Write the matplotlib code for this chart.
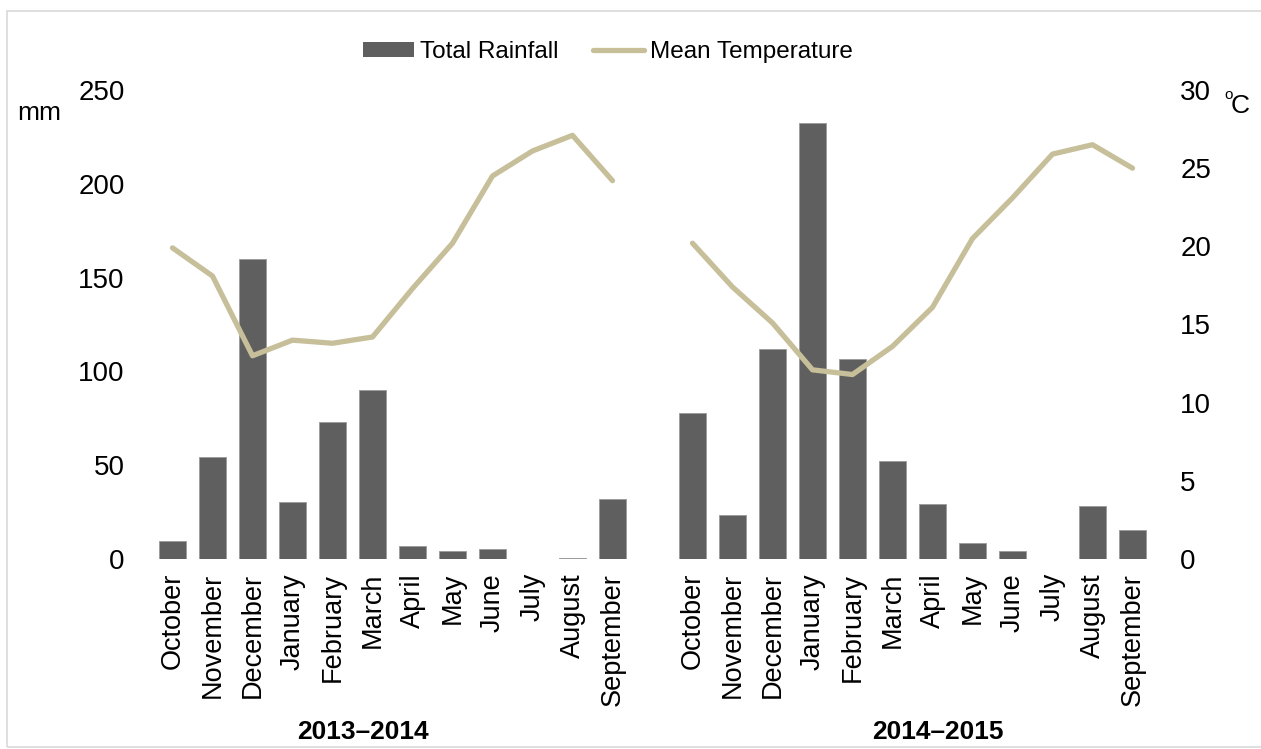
import matplotlib
matplotlib.use('Agg')
import matplotlib.pyplot as plt
from matplotlib.patches import Rectangle, Patch
from matplotlib.lines import Line2D

plt.rcParams['font.family'] = ['Liberation Sans', 'DejaVu Sans']

months = ['October', 'November', 'December', 'January', 'February', 'March',
          'April', 'May', 'June', 'July', 'August', 'September']
seasons = ['2013\u20132014', '2014\u20132015']

# mm
rain_1314 = [9.5, 54.5, 160, 30.5, 73, 90, 7, 4, 5.5, 0, 0.5, 32]
rain_1415 = [78, 23.5, 112, 232.5, 106.5, 52, 29.5, 8.5, 4, 0, 28.5, 15.5]
# degC
temp_1314 = [19.9, 18.1, 13.0, 14.0, 13.8, 14.2, 17.3, 20.2, 24.5, 26.1, 27.1, 24.2]
temp_1415 = [20.2, 17.4, 15.1, 12.1, 11.8, 13.6, 16.1, 20.5, 23.1, 25.9, 26.5, 25.0]

bar_col = '#5f5f5f'
line_col = '#c6bf9a'

W, H = 1261, 749
fig = plt.figure(figsize=(W / 100, H / 100), dpi=100)

# light frame round the chart
fig.patches.append(Rectangle((7 / W, 2 / H), 1.2, 1 - 13 / H, transform=fig.transFigure,
                             fill=False, edgecolor='#d9d9d9', linewidth=1.2))

ax = fig.add_axes([152.5 / W, 1 - 559 / H, 1000 / W, 469 / H])
ax2 = ax.twinx()

x1 = list(range(12))
x2 = [i + 13 for i in range(12)]

ax.bar(x1, rain_1314, width=0.68, color=bar_col, edgecolor='#9a9a9a', linewidth=0.6, zorder=2)
ax.bar(x2, rain_1415, width=0.68, color=bar_col, edgecolor='#9a9a9a', linewidth=0.6, zorder=2)

ax2.plot(x1, temp_1314, color=line_col, linewidth=3.8, solid_capstyle='round',
         solid_joinstyle='round')
ax2.plot(x2, temp_1415, color=line_col, linewidth=3.8, solid_capstyle='round',
         solid_joinstyle='round')

ax.set_xlim(-0.5, 24.5)
ax.set_ylim(0, 250)
ax2.set_ylim(0, 30)
ax.set_yticks(range(0, 251, 50))
ax2.set_yticks(range(0, 31, 5))

ax.set_xticks(x1 + x2)
ax.set_xticklabels(months + months, rotation=90, fontsize=19.5)

for a in (ax, ax2):
    for s in a.spines.values():
        s.set_visible(False)
ax.tick_params(axis='x', length=0, pad=10)
ax.tick_params(axis='y', length=0, pad=20, labelsize=20)
ax2.tick_params(axis='y', length=0, pad=20, labelsize=20)

# units
fig.text(17 / W, 1 - 120 / H, 'mm', fontsize=19, ha='left', va='baseline')
fig.text(1224 / W, 1 - 99 / H, 'o', fontsize=11, ha='left', va='baseline')
fig.text(1231 / W, 1 - 113 / H, 'C', fontsize=19, ha='left', va='baseline')

# season labels
fig.text(363 / W, 1 - 732 / H, seasons[0], fontsize=19, fontweight='bold', ha='center', va='center')
fig.text(938 / W, 1 - 732 / H, seasons[1], fontsize=19, fontweight='bold', ha='center', va='center')

handles = [Patch(facecolor=bar_col, edgecolor='none'),
           Line2D([0], [0], color=line_col, linewidth=3.8, solid_capstyle='round')]
fig.legend(handles, ['Total Rainfall', 'Mean Temperature'], loc='center',
           bbox_to_anchor=(608 / W, 1 - 52 / H), ncol=2, frameon=False,
           prop={'size': 17.5}, handlelength=2.1, handleheight=0.6,
           handletextpad=0.25, columnspacing=1.4, borderpad=0)

fig.savefig('out.png', dpi=100)
